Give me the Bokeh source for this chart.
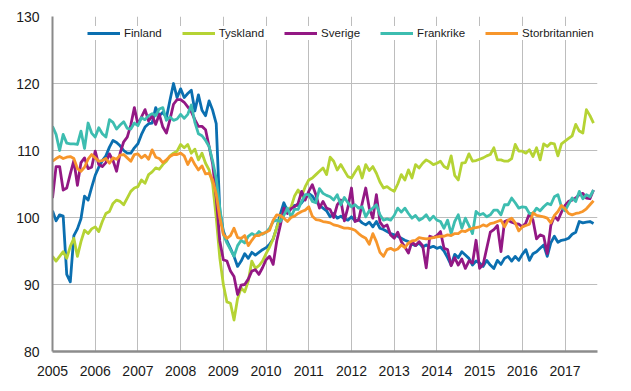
from bokeh.plotting import figure
from bokeh.models import FixedTicker, Range1d, Legend, LegendItem
from bokeh.embed import file_html
from bokeh.resources import INLINE

# ---- data (monthly index values, Jan 2005 - Sep 2017) ----
start_year = 2005
year_ticks = [2005, 2006, 2007, 2008, 2009, 2010, 2011, 2012, 2013, 2014, 2015, 2016, 2017]
year_labels = ["2005", "2006", "2007", "2008", "2009", "2010", "2011", "2012", "2013", "2014", "2015", "2016", "2017"]
y_ticks = [80, 90, 100, 110, 120, 130]

finland = [
    101.0, 99.5, 100.4, 100.2, 91.5, 90.4, 97.3, 98.3, 99.8, 103.2, 102.6, 104.5,
    106.3, 107.5, 108.5, 109.2, 110.5, 111.5, 111.2, 110.7, 110.0, 109.6, 109.6, 110.4,
    111.0, 112.4, 113.5, 114.0, 114.1, 116.4, 115.2, 115.7, 114.9, 117.5, 120.0, 117.9,
    119.2, 117.9, 118.5, 119.0, 115.9, 118.3, 116.0, 115.2, 117.4, 116.0, 114.0, 101.0,
    98.0, 96.5, 95.4, 94.2, 92.7, 93.5, 94.6, 93.9, 94.8, 94.4, 94.8, 95.2,
    95.5, 96.0, 96.8, 98.5, 100.5, 102.2, 101.0, 101.5, 101.8, 101.8, 102.2, 102.9,
    103.6, 103.2, 102.4, 101.8, 101.4, 101.0, 100.1, 100.6, 99.9, 100.2, 99.8, 99.6,
    100.1, 99.5, 99.7, 99.2, 98.9, 99.3, 98.6, 99.4, 98.4, 98.2, 97.9, 97.6,
    97.4, 97.2, 96.9, 96.6, 96.4, 96.0, 95.8, 96.2, 95.6, 95.9, 95.5, 95.7,
    95.4, 95.6, 95.0, 94.0, 92.9, 94.5, 94.0, 94.9, 94.4, 93.9, 92.9, 93.5,
    93.2, 92.7, 93.6, 92.9, 92.4, 93.6, 93.0, 93.9, 94.2, 93.5, 94.2, 93.6,
    94.5, 95.2, 93.6, 94.6, 94.9, 95.4, 95.9, 94.2, 96.2, 97.2, 96.3, 96.6,
    96.7, 96.9, 97.5, 97.8, 99.4, 99.2, 99.3, 99.4, 99.1,
]

tyskland = [
    94.2, 93.5, 94.2, 94.9, 93.9, 95.7, 96.9, 94.2, 96.4, 98.1, 97.6, 98.3,
    98.6, 97.9, 99.4, 100.6, 100.9, 102.1, 102.6, 102.4, 101.9, 102.9, 103.9, 104.4,
    104.6, 105.6, 105.1, 106.4, 106.8, 107.4, 107.2, 107.9, 108.4, 109.2, 109.6, 109.9,
    110.9, 110.4, 110.9, 109.6, 110.2, 108.6, 109.6, 108.1, 107.1, 105.0, 100.0, 94.0,
    90.0, 87.4, 87.2, 84.7, 87.9, 89.5, 88.9, 90.5, 93.5, 92.4, 92.8, 93.5,
    94.6, 95.6, 96.8, 98.5, 99.9, 100.9, 100.9, 101.5, 103.2, 104.1, 103.2, 104.6,
    105.6, 105.9, 106.4, 106.9, 107.4, 106.4, 109.0, 108.4, 107.1, 107.9, 107.0, 106.1,
    105.9, 106.8, 107.6, 105.9, 107.9, 107.0, 107.6, 106.6, 105.3, 104.4, 104.6, 104.2,
    103.9, 105.0, 106.4, 105.6, 107.1, 105.9, 107.9, 107.4, 108.1, 108.6, 108.3, 107.9,
    108.1, 108.4, 107.6, 107.3, 109.2, 106.3, 105.6, 108.1, 108.2, 109.5, 108.4, 108.5,
    108.7, 108.9, 109.2, 109.4, 110.4, 108.6, 108.6, 108.4, 108.4, 108.8, 110.9, 109.9,
    109.9, 109.6, 110.1, 109.1, 110.4, 108.6, 111.0, 110.6, 111.1, 111.0, 109.2, 111.0,
    111.4, 111.8, 112.2, 113.9, 112.9, 112.6, 116.1, 115.2, 114.1,
]

sverige = [
    102.9, 107.6, 107.6, 104.1, 104.4, 106.5, 108.5, 104.8, 108.2, 108.9, 107.3, 107.5,
    109.9, 107.9, 107.6, 108.2, 109.5, 108.5, 106.9, 109.6, 111.3, 112.0, 113.8, 116.4,
    113.9, 115.0, 116.1, 114.4, 115.2, 113.9, 115.4, 113.5, 112.6, 114.6, 116.9, 117.6,
    117.6, 117.2, 116.5, 115.8, 114.6, 113.6, 113.6, 113.1, 110.6, 108.0, 103.0, 96.5,
    93.7, 93.5, 92.0, 91.2, 88.5, 89.9, 90.0, 90.8, 92.0, 92.2, 91.5, 92.5,
    93.7, 94.2, 93.0, 96.5, 98.8, 101.4, 100.6, 101.3, 101.6, 102.1, 103.9, 102.6,
    103.9, 104.9, 103.4, 101.4, 102.4, 101.4, 101.2, 100.0, 101.9, 102.6, 99.5, 101.5,
    104.4, 99.4, 99.6, 102.1, 104.4, 101.4, 99.9, 103.4, 99.3, 98.6, 98.9, 97.4,
    96.9, 97.8, 96.4, 95.6, 94.7, 96.4, 95.8, 96.4, 95.8, 92.5, 97.2, 97.0,
    97.3, 97.9, 95.4, 95.2, 92.8, 94.0, 92.9, 93.8, 92.4, 93.5, 93.2, 96.6,
    92.4, 93.0, 95.4, 97.8, 98.2, 98.8, 94.9, 99.4, 99.6, 99.3, 99.1, 99.0,
    98.6, 99.2, 100.6, 99.6, 96.8, 97.4, 97.2, 94.6, 98.8, 100.2, 99.6, 100.8,
    101.8, 102.4, 102.6, 102.9, 103.4, 103.6, 102.9, 102.8, 104.1,
]

frankrike = [
    113.6, 112.4, 110.0, 112.4, 111.1, 111.0, 111.0, 110.9, 112.9, 110.3, 114.1, 112.6,
    112.0, 113.4, 112.5, 112.0, 114.6, 114.2, 113.2, 113.8, 114.3, 113.3, 113.2, 114.1,
    113.7, 114.9, 114.6, 115.2, 115.5, 115.2, 116.2, 116.4, 114.5, 115.0, 114.5, 114.7,
    115.4, 114.8, 115.4, 116.8, 114.2, 112.5, 112.2, 111.5, 110.6, 108.4, 105.8, 101.5,
    97.5, 96.2, 95.2, 94.2, 95.8, 96.6, 96.2, 97.2, 97.6, 97.3, 97.9, 97.5,
    97.8, 98.4, 99.4, 99.6, 99.4, 100.3, 101.4, 100.1, 101.2, 101.2, 102.4, 103.4,
    103.4, 102.4, 102.2, 104.3, 103.6, 103.3, 103.1, 102.6, 103.4, 101.9, 103.0, 102.2,
    101.6, 101.9, 101.4, 101.6, 100.1, 101.0, 101.4, 101.9, 100.4, 99.6, 99.8, 99.6,
    100.3, 101.4, 100.8, 101.4, 100.6, 99.9, 100.3, 99.6, 99.9, 100.4, 99.6, 100.2,
    99.6, 99.4, 98.4, 99.6, 97.6, 99.4, 100.4, 98.4, 99.9, 98.8, 97.6, 100.9,
    100.4, 100.6, 100.1, 100.4, 101.1, 101.1, 100.4, 101.9, 101.9, 102.9, 102.2, 101.4,
    101.6, 101.5, 100.6, 100.6, 101.4, 101.0, 101.6, 102.1, 101.9, 103.1, 103.4, 101.6,
    101.0, 102.0, 102.9, 102.4, 103.9, 102.8, 103.4, 103.1, 104.1,
]

storbritannien = [
    108.4, 108.8, 109.1, 108.8, 109.0, 109.1, 108.8, 107.3, 106.9, 107.5, 108.7, 109.4,
    108.9, 108.4, 108.5, 108.8, 108.1, 108.9, 108.7, 109.3, 109.4, 108.9, 108.4, 109.4,
    109.5, 108.9, 109.3, 108.7, 110.1, 109.0, 108.8, 108.2, 108.6, 109.1, 109.4, 109.4,
    109.6, 109.2, 107.9, 108.9, 107.9, 107.1, 107.7, 106.5, 106.6, 105.6, 103.5, 100.0,
    97.5, 96.9, 97.3, 98.4, 97.0, 96.9, 97.3, 95.8, 96.6, 97.3, 97.3, 97.6,
    97.8, 98.1, 99.6, 100.4, 100.3, 99.9, 99.4, 100.0, 100.2, 100.6, 100.9, 101.1,
    101.6, 100.2, 99.7, 99.6, 99.4, 99.3, 99.2, 98.9, 98.8, 98.6, 98.4, 98.4,
    98.3, 98.1, 97.6, 97.2, 96.9, 96.0, 97.6, 96.4, 94.8, 94.2, 95.2, 95.4,
    95.1, 95.3, 95.9, 95.5, 96.2, 96.5, 96.6, 97.0, 96.9, 96.8, 96.9, 97.0,
    97.1, 97.2, 97.2, 97.4, 97.3, 97.6, 97.6, 98.0, 97.9, 98.2, 98.4, 98.5,
    98.6, 98.9, 98.7, 99.1, 99.2, 99.4, 99.6, 98.6, 99.6, 99.9, 99.2, 98.0,
    98.6, 98.8, 99.0, 100.7, 100.3, 100.2, 100.1, 99.9, 99.2, 100.3, 100.9, 101.8,
    101.3, 100.6, 100.4, 100.6, 100.7, 100.9, 101.3, 101.9, 102.5,
]

series_names = ["Finland", "Tyskland", "Sverige", "Frankrike", "Storbritannien"]
series_values = [finland, tyskland, sverige, frankrike, storbritannien]
series_colors = ["#0b6fb0", "#b5d334", "#931884", "#3dbdb0", "#f7962b"]

n = len(finland)
months_x = [start_year + i / 12 for i in range(n)]

FONT = "Liberation Sans"

p = figure(width=623, height=383, output_backend="svg", toolbar_location=None,
           x_range=Range1d(2005, 2017.76), y_range=Range1d(80, 130),
           min_border_left=52, min_border_right=26, min_border_top=16,
           min_border_bottom=32)
p.outline_line_color = None
p.background_fill_color = "white"
p.border_fill_color = "white"

# grids
p.xgrid.ticker = FixedTicker(ticks=year_ticks)
p.ygrid.ticker = FixedTicker(ticks=y_ticks)
for g in (p.xgrid, p.ygrid):
    g.grid_line_color = "#bdbdbd"
    g.grid_line_width = 1

# axes
p.xaxis.ticker = FixedTicker(ticks=year_ticks)
p.xaxis.major_label_overrides = {t: l for t, l in zip(year_ticks, year_labels)}
p.yaxis.ticker = FixedTicker(ticks=y_ticks)
for ax in (p.xaxis, p.yaxis):
    ax.major_tick_line_color = None
    ax.minor_tick_line_color = None
    ax.major_tick_out = 0
    ax.major_tick_in = 0
    ax.major_label_text_font = FONT
    ax.major_label_text_font_size = "14px"
    ax.major_label_text_color = "#1a1a1a"
p.xaxis.axis_line_color = "#8c8c8c"
p.xaxis.axis_line_width = 2.5
p.yaxis.axis_line_color = "#8a8a8a"
p.yaxis.axis_line_width = 2
p.yaxis.major_label_standoff = 13
p.xaxis.major_label_standoff = 14

items = []
for name, vals, col in zip(series_names, series_values, series_colors):
    r = p.line(months_x, vals, line_color=col, line_width=2.8, line_join="round")
    items.append(LegendItem(label=name, renderers=[r]))

legend = Legend(items=items, orientation="horizontal", location=(35, 311),
                glyph_width=33, glyph_height=14, label_height=14,
                label_standoff=4, spacing=20, padding=2, margin=0,
                label_text_font=FONT, label_text_font_size="11.5px",
                label_text_color="#1a1a1a",
                border_line_color=None, background_fill_color="white",
                background_fill_alpha=1.0)
p.add_layout(legend)

open("out.html", "w").write(file_html(p, INLINE))
